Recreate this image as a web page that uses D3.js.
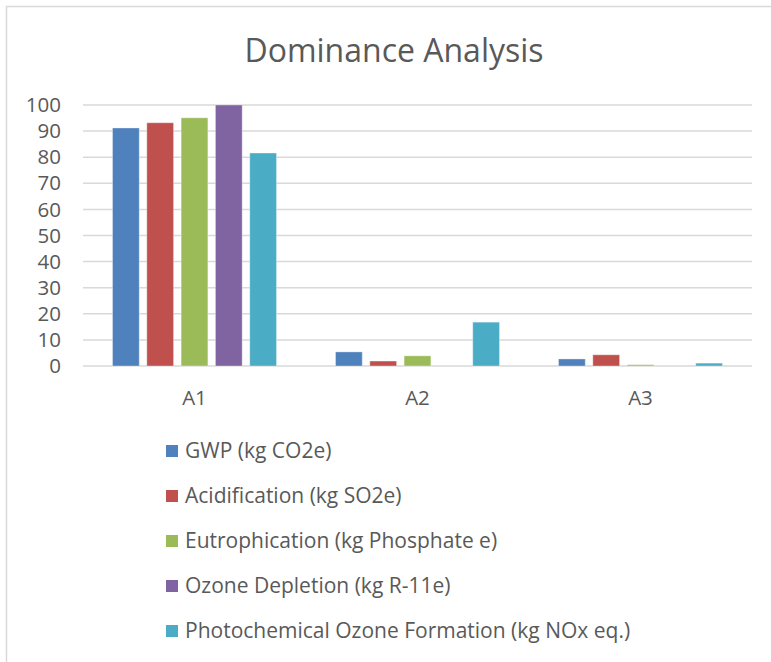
<!DOCTYPE html>
<html><head><meta charset="utf-8">
<script src="https://cdn.jsdelivr.net/npm/d3@7"></script>
<style>body{margin:0;background:#fff}svg{display:block}text{font-family:"Open Sans",sans-serif;fill:#595959}</style>
</head><body><div id="chart"></div>
<script>
const categories = ["A1","A2","A3"];
const seriesNames = ["GWP (kg CO2e)","Acidification (kg SO2e)","Eutrophication (kg Phosphate e)","Ozone Depletion (kg R-11e)","Photochemical Ozone Formation (kg NOx eq.)"];
const gwp = [91.2, 5.4, 2.7];
const acidification = [93.2, 1.9, 4.3];
const eutrophication = [95.1, 3.9, 0.5];
const ozone = [100, 0, 0];
const photochemical = [81.6, 16.8, 1.1];
const colors = ["#4f81bd","#c0504d","#9bbb59","#8064a2","#4bacc6"];
const yTicks = [0,10,20,30,40,50,60,70,80,90,100];
const seriesValues = [gwp, acidification, eutrophication, ozone, photochemical];

const W = 771, H = 662;
const svg = d3.select("#chart").append("svg").attr("width", W).attr("height", H);
svg.append("rect").attr("x",6.5).attr("y",6.5).attr("width",W).attr("height",H).attr("fill","#fff").attr("stroke","#d9d9d9").attr("stroke-width",1.5);

svg.append("text").attr("x",394).attr("y",62).attr("text-anchor","middle").style("font-size","32px").text("Dominance Analysis");

const y = d3.scaleLinear().domain([0,100]).range([366,105]);
const x0 = d3.scaleBand().domain(categories).range([83,752]).padding(0);
const x1 = d3.scaleBand().domain(d3.range(seriesNames.length)).range([-82,82]).paddingInner(0.22);

svg.append("g").selectAll("line").data(yTicks).join("line")
  .attr("x1",83).attr("x2",752).attr("y1",d=>y(d)).attr("y2",d=>y(d))
  .attr("stroke","#d9d9d9").attr("stroke-width",1.5);

svg.append("g").selectAll("text").data(yTicks).join("text")
  .attr("x",61).attr("y",d=>y(d)).attr("dy","0.35em").attr("text-anchor","end")
  .style("font-size","20.5px").text(d=>d);

const groups = svg.append("g").selectAll("g").data(categories).join("g")
  .attr("transform",c=>`translate(${x0(c)+x0.bandwidth()/2},0)`);
groups.selectAll("rect").data((c,ci)=>seriesValues.map((s,si)=>({si, v:s[ci]})).filter(d=>d.v>0)).join("rect")
  .attr("x",d=>x1(d.si)).attr("width",x1.bandwidth())
  .attr("y",d=>y(d.v)).attr("height",d=>y(0)-y(d.v))
  .attr("fill",d=>colors[d.si]).attr("stroke","#fff").attr("stroke-opacity",0.35).attr("stroke-width",1);

svg.append("g").selectAll("text").data(categories).join("text")
  .attr("x",c=>x0(c)+x0.bandwidth()/2).attr("y",398).attr("dy","0.35em").attr("text-anchor","middle")
  .style("font-size","20.5px").text(c=>c);

const leg = svg.append("g").selectAll("g").data(seriesNames).join("g")
  .attr("transform",(d,i)=>`translate(166,${451 + i*45})`);
leg.append("rect").attr("x",0).attr("y",-6).attr("width",12).attr("height",12).attr("fill",(d,i)=>colors[i]);
leg.append("text").attr("x",19).attr("y",0).attr("dy","0.35em").style("font-size","21px").text(d=>d);
</script></body></html>
